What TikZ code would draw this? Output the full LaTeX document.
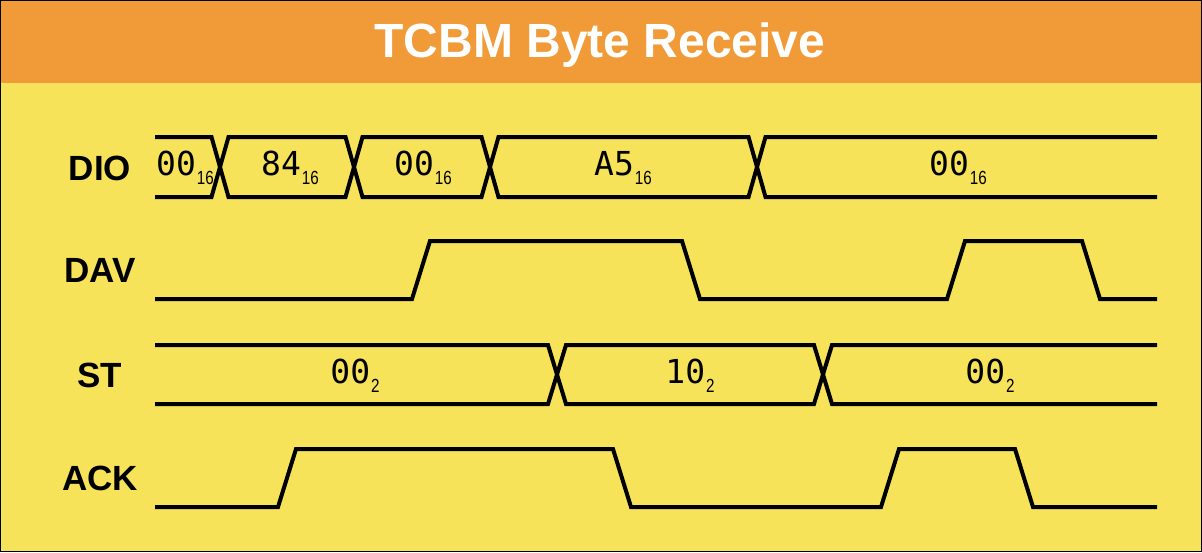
\documentclass[tikz,border=0pt]{standalone}
\usepackage{fontspec}
\usepackage{graphicx}
\setmainfont{Liberation Sans}
\newfontfamily\monofont{DejaVu Sans Mono}
\definecolor{hdrorange}{HTML}{F09A38}
\definecolor{bgyellow}{HTML}{F7E35A}
\newcommand\subf{\fontsize{19}{19}\selectfont}
\newcommand\busval[2]{{\fontsize{33}{36}\selectfont\monofont #1}\hspace{1pt}\raisebox{-9pt}{\subf\scalebox{0.8}[1]{#2}}}
\tikzset{
  sig/.style={line width=4pt, line join=miter, black},
  siglabel/.style={anchor=base, inner sep=0pt, font=\fontsize{35}{40}\selectfont\bfseries},
  valtext/.style={anchor=base, inner sep=0pt},
}
\begin{document}
\begin{tikzpicture}[x=1pt,y=-1pt]
\useasboundingbox (0,0) rectangle (1202,552);
\fill[bgyellow] (0,0) rectangle (1202,552);
\fill[hdrorange] (0,0) rectangle (1202,83);
\draw[line width=1pt] (0.5,0.5) rectangle (1201.5,551.5);
\node[anchor=base, inner sep=0pt, text=white, font=\fontsize{48}{50}\selectfont\bfseries] (title) at (600,57) {TCBM Byte Receive};

% labels
\node[siglabel] (lDIO) at (100,180) {DIO};
\node[siglabel] (lDAV) at (100,282.5) {DAV};
\node[siglabel] (lST) at (100,387) {ST};
\node[siglabel] (lACK) at (100,490.5) {ACK};

% DIO bus
\draw[sig] (155,137) -- (211.5,137) -- (228.5,197) -- (345.5,197) -- (362.5,137) -- (481.5,137) -- (498.5,197) -- (748.5,197) -- (765.5,137) -- (1157,137);
\draw[sig] (155,197) -- (211.5,197) -- (228.5,137) -- (345.5,137) -- (362.5,197) -- (481.5,197) -- (498.5,137) -- (748.5,137) -- (765.5,197) -- (1157,197);
\node[valtext] (d1) at (185,175) {\busval{00}{16}};
\node[valtext] (d2) at (290,175) {\busval{84}{16}};
\node[valtext] (d3) at (423,175) {\busval{00}{16}};
\node[valtext] (d4) at (623,175) {\busval{A5}{16}};
\node[valtext] (d5) at (958,175) {\busval{00}{16}};

% DAV
\draw[sig] (155,299) -- (412,299) -- (430,241) -- (682,241) -- (700,299) -- (947,299) -- (965,241) -- (1082,241) -- (1100,299) -- (1157,299);

% ST bus
\draw[sig] (155,345) -- (548,345) -- (566,404) -- (814,404) -- (832,345) -- (1157,345);
\draw[sig] (155,404) -- (548,404) -- (566,345) -- (814,345) -- (832,404) -- (1157,404);
\node[valtext] (s1) at (355,383) {\busval{00}{2}};
\node[valtext] (s2) at (690,383) {\busval{10}{2}};
\node[valtext] (s3) at (990,383) {\busval{00}{2}};

% ACK
\draw[sig] (155,507) -- (278,507) -- (296,449) -- (613,449) -- (631,507) -- (881,507) -- (899,449) -- (1015,449) -- (1033,507) -- (1157,507);
\end{tikzpicture}
\end{document}
